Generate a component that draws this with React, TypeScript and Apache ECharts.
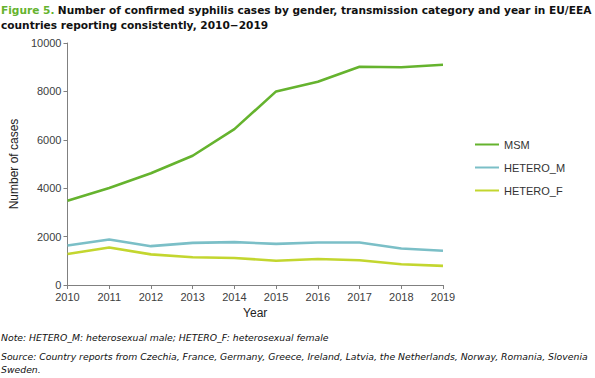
import React, { useEffect, useRef } from "react";
import * as echarts from "echarts";

const years = ["2010", "2011", "2012", "2013", "2014", "2015", "2016", "2017", "2018", "2019"];
const msm = [3480, 4010, 4620, 5340, 6440, 8000, 8400, 9020, 9000, 9100];
const heteroM = [1630, 1880, 1605, 1740, 1770, 1700, 1755, 1755, 1510, 1415];
const heteroF = [1280, 1550, 1265, 1145, 1115, 1005, 1075, 1020, 855, 790];
const seriesNames = ["MSM", "HETERO_M", "HETERO_F"];
const colors = ["#65B32E", "#7BBFC7", "#C3D62F"];

const titleLine1 = "Number of confirmed syphilis cases by gender, transmission category and year in EU/EEA";
const titleLine2 = "countries reporting consistently, 2010\u22122019";
const noteText = "Note: HETERO_M: heterosexual male; HETERO_F: heterosexual female";
const sourceLine1 = "Source: Country reports from Czechia, France, Germany, Greece, Ireland, Latvia, the Netherlands, Norway, Romania, Slovenia";
const sourceLine2 = "Sweden.";

export default function App() {
  const ref = useRef<HTMLDivElement>(null);
  useEffect(() => {
    document.body.style.margin = "0";
    const chart = echarts.init(ref.current!, null, { renderer: "svg" });
    const axisColor = "#808080";
    const labelColor = "#404040";
    const font = "'Liberation Sans', Arial, sans-serif";
    const titleFont = "'DejaVu Sans', Verdana, sans-serif";
    const data = [msm, heteroM, heteroF];
    chart.setOption({
      animation: false,
      backgroundColor: "#ffffff",
      grid: { left: 60, right: 152, top: 43, bottom: 93, containLabel: false },
      legend: {
        orient: "vertical",
        left: 470,
        top: 134,
        itemGap: 12,
        itemWidth: 24,
        itemHeight: 14,
        icon: "path://M0,6 L24,6 L24,8 L0,8 Z",
        textStyle: { fontFamily: font, fontSize: 11, color: "#333" },
        data: seriesNames.map((n, i) => ({ name: n, itemStyle: { color: colors[i] } })),
      },
      xAxis: {
        type: "category",
        data: years,
        boundaryGap: false,
        name: "Year",
        nameLocation: "middle",
        nameGap: 21,
        nameTextStyle: { fontFamily: font, fontSize: 12, color: "#222" },
        axisLine: { lineStyle: { color: axisColor, width: 1 } },
        axisTick: { show: true, alignWithLabel: true, length: 4, lineStyle: { color: axisColor } },
        axisLabel: { fontFamily: font, fontSize: 11, color: labelColor, margin: 6 },
      },
      yAxis: {
        type: "value",
        min: 0,
        max: 10000,
        interval: 2000,
        name: "Number of cases",
        nameLocation: "middle",
        nameGap: 36,
        nameTextStyle: { fontFamily: font, fontSize: 12, color: "#222" },
        axisLine: { show: true, lineStyle: { color: axisColor, width: 1 } },
        axisTick: { show: true, length: 4, lineStyle: { color: axisColor } },
        axisLabel: {
          fontFamily: font,
          fontSize: 11,
          color: labelColor,
          margin: 6,
          formatter: (v: number) => String(v),
        },
        splitLine: { show: false },
      },
      series: seriesNames.map((n, i) => ({
        name: n,
        type: "line",
        data: data[i],
        symbol: "none",
        lineStyle: { color: colors[i], width: 2.6 },
        itemStyle: { color: colors[i] },
      })),
      graphic: [
        {
          type: "text",
          left: 1,
          top: 4,
          style: {
            text: "{g|Figure 5.} {b|" + titleLine1 + "}",
            rich: {
              g: { fontFamily: titleFont, fontSize: 10.6, fontWeight: "bold", fill: "#65B32E" },
              b: { fontFamily: titleFont, fontSize: 10.6, fontWeight: "bold", fill: "#111" },
            },
          },
        },
        {
          type: "text",
          left: 1,
          top: 19,
          style: { text: titleLine2, fontFamily: titleFont, fontSize: 10.6, fontWeight: "bold", fill: "#111" },
        },
        {
          type: "text",
          left: 1,
          top: 333,
          style: { text: noteText, fontFamily: titleFont, fontSize: 9.3, fontStyle: "italic", fill: "#111" },
        },
        {
          type: "text",
          left: 1,
          top: 352,
          style: { text: sourceLine1, fontFamily: titleFont, fontSize: 9.3, fontStyle: "italic", fill: "#111" },
        },
        {
          type: "text",
          left: 1,
          top: 365,
          style: { text: sourceLine2, fontFamily: titleFont, fontSize: 9.3, fontStyle: "italic", fill: "#111" },
        },
      ],
    });
    return () => chart.dispose();
  }, []);
  return <div ref={ref} style={{ width: 595, height: 378 }} />;
}
